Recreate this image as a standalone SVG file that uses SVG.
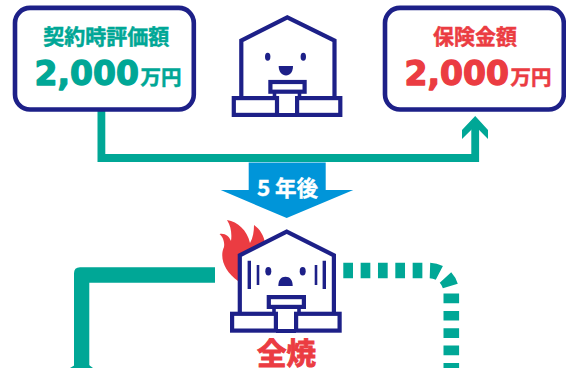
<svg xmlns="http://www.w3.org/2000/svg" width="566" height="368" viewBox="0 0 566 368">
<style>
.box{fill:#fff;stroke:#1D2088;stroke-width:4.6}
.ln{fill:#fff;stroke:#1D2088;stroke-width:4.2;stroke-linejoin:miter}
.nv{fill:#1D2088}
.st{fill:none;stroke:#1D2088}
.flow{fill:none;stroke:#00A796}
.jp{font-family:"Noto Sans CJK JP","Noto Sans",sans-serif;font-weight:700}
.num{font-family:"DejaVu Sans",sans-serif;font-weight:700;font-size:33px;stroke-width:1.300;stroke-linejoin:round}
.t{fill:#00A796}
.r{fill:#EB3C42}
.ts{stroke:#00A796}
.rs{stroke:#EB3C42}
.thin{stroke-width:.5}
</style>
<g id="connectors">
<path class="flow" stroke-width="7.800" d="M101.400 110V158H475.200V125"/>
<path d="M475.200 116L488 130V139L475.200 126L462 139V130Z" fill="#00A796"/>
<path fill="#00A796" d="M215 267.300H80Q74 267.300 74 273.300V368H89.300V282.700H215Z"/>
<path d="M70 368L75 365H89L93 368Z" fill="#00A796"/>
<path class="flow" stroke-width="15.600" stroke-dasharray="9.700 7.640" d="M343.300 270.500H429.300A22 22 0 0 1 451.300 292.500V368"/>
</g>
<g id="node-contract">
<rect class="box" x="15" y="7.900" width="178.800" height="101.600" rx="15"/>
<text class="jp t ts thin" x="106.300" y="44" font-size="21" text-anchor="middle">契約時評価額</text>
<text class="num t ts" x="34.500" y="84.500">2,000</text>
<text class="jp t ts thin" x="140.500" y="85" font-size="20.500">万円</text>
</g>
<g id="node-insurance">
<rect class="box" x="385" y="7.900" width="178.800" height="101.600" rx="15"/>
<text class="jp r rs thin" x="475" y="44" font-size="21" text-anchor="middle">保険金額</text>
<text class="num r rs" x="404.500" y="84.500">2,000</text>
<text class="jp r rs thin" x="510.500" y="85" font-size="20.500">万円</text>
</g>
<g id="node-house-top">
<path class="ln" d="M241.300 99V40.500L287.300 17.300L334.500 40.500V99"/>
<ellipse class="nv" cx="267.700" cy="56.700" rx="2.700" ry="4"/>
<ellipse class="nv" cx="303.300" cy="56.700" rx="2.700" ry="4"/>
<path class="nv" d="M278.700 66H293C293 72 290 75.500 286 75.500S278.700 72 278.700 66Z"/>
<path class="st" stroke-width="3.600" d="M274.500 93V97M299.500 93V97"/>
<rect class="ln" x="270.400" y="82" width="34.200" height="9.700"/>
<rect class="ln" x="233.800" y="98.100" width="43.200" height="16.800"/>
<rect class="ln" x="297.100" y="98.100" width="43.200" height="16.800"/>
<path class="st" stroke-width="4" d="M277 115H297"/>
</g>
<g id="node-transition">
<path d="M248.700 162.500H325.700V190H353.300L286.700 218L220.700 190H248.700Z" fill="#0095D9"/>
<text class="jp" x="257" y="196" font-size="22.500" fill="#fff" stroke="#fff" stroke-width=".4">5</text>
<text class="jp" x="275" y="196" font-size="21.500" fill="#fff" stroke="#fff" stroke-width=".4">年後</text>
</g>
<g id="node-house-fire">
<path class="r" d="M219.500 234C225 233 229 236 231 241C232 234 231 226 227 220C238 222 247 230 250 243C253 238 254 231 254 225C260 229 264 236 265 243L238 281C225 272 219 258 224 247C225 241 222 236 219.500 234Z"/>
<path class="ln" d="M239.800 314V255.300L286.700 231.700L333.900 255.300V314"/>
<ellipse class="nv" cx="268.300" cy="271.300" rx="3" ry="4.200"/>
<ellipse class="nv" cx="302.700" cy="271.300" rx="3" ry="4.200"/>
<path class="nv" d="M278.300 286C278.300 280 281 276.700 285.500 276.700S292.700 280 292.700 286Z"/>
<path class="st" stroke-width="3.400" d="M249.300 260.700V289M324.300 260.700V289"/>
<path class="st" stroke-width="2.600" d="M258 265V285M316 265V285"/>
<path class="st" stroke-width="3.600" d="M274 308V313M299 308V313"/>
<rect class="ln" x="268.800" y="297.100" width="35.100" height="9.800"/>
<rect class="ln" x="232.100" y="313.800" width="43.800" height="16.800"/>
<rect class="ln" x="296.100" y="313.800" width="43.500" height="16.800"/>
<path class="st" stroke-width="4" d="M276 331H296"/>
<text class="jp r rs" x="286.500" y="364" font-size="29.500" text-anchor="middle" stroke-width="1">全焼</text>
</g>
</svg>
